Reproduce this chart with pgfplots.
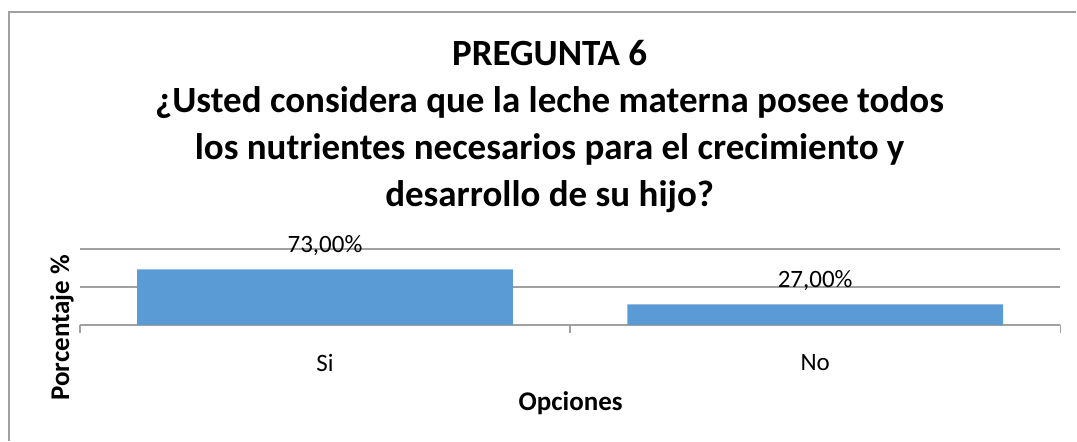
\documentclass[border=0pt]{standalone}
\usepackage{fontspec}
\setmainfont{Carlito}
\usepackage{pgfplots}
\pgfplotsset{compat=1.18}
\definecolor{barblue}{RGB}{91,155,213}
\definecolor{gridgray}{RGB}{160,160,160}
\begin{document}
\begin{tikzpicture}
% outer chart frame (only top and left edges are visible)
\draw[gridgray, line width=1.5pt] (9pt,-441pt) -- (9pt,-12pt) -- (1077pt,-12pt);

\begin{axis}[
  at={(80pt,-325pt)}, anchor=south west,
  scale only axis,
  width=981pt, height=76pt,
  xmin=-0.5, xmax=1.5,
  ymin=0, ymax=100,
  axis x line*=bottom,
  axis y line*=left,
  axis line style={gridgray, line width=1.5pt},
  y axis line style={draw=none},
  xtick={0,1},
  xticklabels={Si,No},
  minor xtick={-0.5,0.5,1.5},
  major tick length=0pt,
  minor tick length=8pt,
  tick align=outside,
  tick style={gridgray, line width=1.5pt},
  ytick={0,50,100},
  yticklabels={},
  ytick style={draw=none},
  ymajorgrids,
  grid style={gridgray, line width=1.5pt},
  xticklabel style={font=\fontsize{25}{30}\selectfont, yshift=-26pt},
  nodes near coords,
  point meta=explicit symbolic,
  every node near coord/.append style={font=\fontsize{25}{30}\selectfont, black, yshift=10pt},
  clip=false,
]
\addplot[ybar, bar width=376pt, fill=barblue, draw=none]
  coordinates {(0,73) [73,00\%] (1,27) [27,00\%]};
\end{axis}

% title
\node[align=center, font=\fontsize{37}{47}\selectfont\bfseries] at (550pt,-127pt)
  {PREGUNTA 6\\ ¿Usted considera que la leche materna posee todos\\ los nutrientes necesarios para el crecimiento y\\ desarrollo de su hijo?};

% axis titles
\node[font=\fontsize{27}{32}\selectfont\bfseries] at (571pt,-403pt) {Opciones};
\node[font=\fontsize{27}{32}\selectfont\bfseries, rotate=90] at (62pt,-328pt) {Porcentaje \%};

\useasboundingbox (0pt,0pt) rectangle (1077pt,-441pt);
\end{tikzpicture}
\end{document}
